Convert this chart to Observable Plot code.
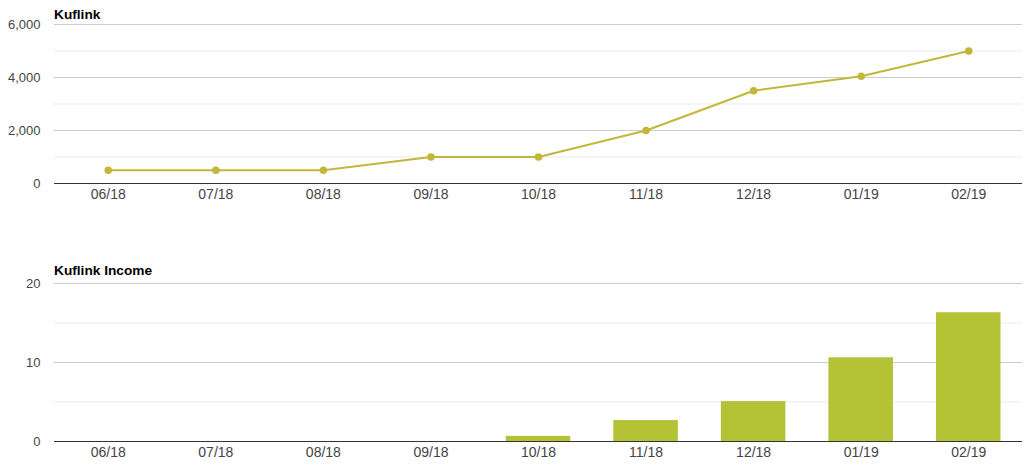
<!DOCTYPE html>
<html>
<head>
<meta charset="utf-8">
<script src="https://cdn.jsdelivr.net/npm/d3@7"></script>
<script src="https://cdn.jsdelivr.net/npm/@observablehq/plot@0.6"></script>
<style>
  html, body { margin: 0; padding: 0; background: #fff; }
  #wrap { position: relative; width: 1036px; height: 471px; font-family: "Liberation Sans", Arial, sans-serif; }
  .title { position: absolute; left: 54px; font-weight: bold; font-size: 13.7px; color: #000; line-height: 1; }
  .panel { position: absolute; left: 0; }
</style>
</head>
<body>
<div id="wrap">
  <div class="title" style="top:8px">Kuflink</div>
  <div class="title" style="top:264px">Kuflink Income</div>
  <div class="panel" id="top" style="top:0px"></div>
  <div class="panel" id="bottom" style="top:240px"></div>
</div>
<script>
const months = ["06/18","07/18","08/18","09/18","10/18","11/18","12/18","01/19","02/19"];
const kuflink = [500, 500, 500, 1000, 1000, 2000, 3500, 4050, 5000];
const income = [0, 0, 0, 0, 0.65, 2.65, 5.05, 10.6, 16.3];
const topMajor = [0, 2000, 4000, 6000];
const topMinor = [1000, 3000, 5000];
const botMajor = [0, 10, 20];
const botMinor = [5, 15];

const lineColor = "#c2b73a";
const barColor = "#b3c335";

const topData = months.map((m, i) => ({month: m, value: kuflink[i]}));
const botData = months.map((m, i) => ({month: m, value: income[i]}));

const common = {
  width: 1036,
  marginLeft: 54,
  marginRight: 14,
  style: {fontFamily: "'Liberation Sans', Arial, sans-serif", background: "transparent", overflow: "visible"}
};

const topChart = Plot.plot({
  ...common,
  height: 210,
  marginTop: 24,
  marginBottom: 27,
  x: {type: "point", domain: months, padding: 0.5, round: false, axis: null, label: null},
  y: {domain: [0, 6000], axis: null, label: null},
  marks: [
    Plot.ruleY(topMinor, {stroke: "#ebebeb", strokeWidth: 1}),
    Plot.ruleY(topMajor.filter(d => d !== 0), {stroke: "#cccccc", strokeWidth: 1}),
    Plot.axisY(topMajor, {tickSize: 0, tickPadding: 14, fontSize: 13, fill: "#444", label: null, tickFormat: d3.format(",")}),
    Plot.axisX({tickSize: 0, tickPadding: 6, fontSize: 14, fill: "#444", label: null}),
    Plot.ruleY([0], {stroke: "#333", strokeWidth: 1}),
    Plot.line(topData, {x: "month", y: "value", stroke: lineColor, strokeWidth: 2}),
    Plot.dot(topData, {x: "month", y: "value", fill: lineColor, r: 3.8})
  ]
});

const botChart = Plot.plot({
  ...common,
  height: 231,
  marginTop: 43,
  marginBottom: 30,
  x: {type: "band", domain: months, paddingInner: 0.4, paddingOuter: 0.2, round: false, axis: null, label: null},
  y: {domain: [0, 20], axis: null, label: null},
  marks: [
    Plot.ruleY(botMinor, {stroke: "#ebebeb", strokeWidth: 1}),
    Plot.ruleY(botMajor.filter(d => d !== 0), {stroke: "#cccccc", strokeWidth: 1}),
    Plot.axisY(botMajor, {tickSize: 0, tickPadding: 14, fontSize: 13, fill: "#444", label: null}),
    Plot.axisX({tickSize: 0, tickPadding: 6, fontSize: 14, fill: "#444", label: null}),
    Plot.barY(botData, {x: "month", y: "value", fill: barColor}),
    Plot.ruleY([0], {stroke: "#333", strokeWidth: 1})
  ]
});

document.getElementById("top").appendChild(topChart);
document.getElementById("bottom").appendChild(botChart);
</script>
</body>
</html>
